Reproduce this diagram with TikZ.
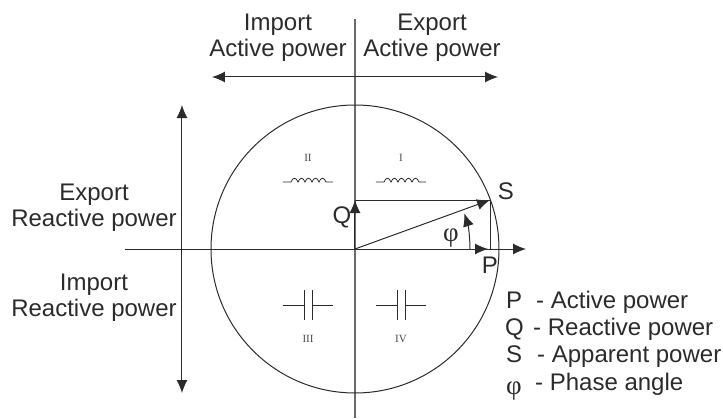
\documentclass[tikz,border=0pt]{standalone}
\usepackage{fontspec}
\setmainfont{Liberation Sans}
\newfontfamily\romanfont{Liberation Serif}
\usetikzlibrary{arrows.meta}

\definecolor{ink}{HTML}{2B2B2B}
\tikzset{
  lbl/.style={font=\fontsize{24}{26}\selectfont, text=ink, inner sep=0pt, align=center},
  letter/.style={font=\fontsize{24}{26}\selectfont, text=ink, inner sep=0pt, anchor=base},
  legend/.style={font=\fontsize{24}{26}\selectfont, text=ink, inner sep=0pt, anchor=base west},
  phi/.style={font=\romanfont\fontsize{27}{26}\selectfont, text=ink, inner sep=0pt, anchor=base},
  quad/.style={font=\romanfont\fontsize{11}{13}\selectfont, text=ink!85, inner sep=0pt},
  vec/.style={-{Latex[length=13pt,width=11pt]}, line width=1pt, draw=ink},
  dbl/.style={{Latex[length=13pt,width=11pt]}-{Latex[length=13pt,width=11pt]}, line width=1pt, draw=ink},
  thin line/.style={line width=1pt, draw=ink}
}

\begin{document}
\begin{tikzpicture}[x=1pt, y=1pt]
  \useasboundingbox (-355,-169) rectangle (368,249);
  % axes and circle
  \coordinate (O) at (0,0);
  \coordinate (axT) at (0,230);
  \coordinate (axB) at (0,-169);
  \coordinate (axL) at (-230,0);
  \coordinate (axR) at (171,0);
  \coordinate (S) at (135,49);
  \coordinate (Pt) at (135,0);
  \coordinate (Qt) at (0,49);
  \draw[line width=1.3pt, draw=ink!70] (axT) -- (axB);
  \draw[vec] (axL) -- (axR);
  \draw[thin line] (O) circle (144);
  % vectors
  \draw[vec] (O) -- (S);
  \draw[vec] (O) -- (133,0);
  \draw[vec] (O) -- (Qt);
  \draw[thin line] (Qt) -- (S) -- (Pt);
  \draw[vec] (115,0) arc (0:18:115);
  % direction arrows
  \coordinate (hL) at (-143,172);
  \coordinate (hR) at (143,172);
  \coordinate (vT) at (-173,144);
  \coordinate (vB) at (-173,-144);
  \draw[dbl] (hL) -- (hR);
  \draw[dbl] (vT) -- (vB);
  % quadrants
  \foreach \qx/\qname in {46/I,-47/II}{
    \node[quad] (quad\qname) at (\qx,91) {\qname};
    \draw[line width=0.8pt, draw=ink] (\qx-25,67) -- (\qx-17,67)
      .. controls (\qx-15,72) and (\qx-12,72) .. (\qx-10,67)
      .. controls (\qx-8,72) and (\qx-5,72) .. (\qx-3,67)
      .. controls (\qx-1,72) and (\qx+2,72) .. (\qx+4,67)
      .. controls (\qx+6,72) and (\qx+9,72) .. (\qx+11,67)
      .. controls (\qx+13,72) and (\qx+16,72) .. (\qx+18,67) -- (\qx+25,67);
  }
  \foreach \qx/\qname in {46/IV,-47/III}{
    \node[quad] (quad\qname) at (\qx,-90) {\qname};
    \draw[line width=0.8pt, draw=ink] (\qx-25,-56) -- (\qx-4,-56) (\qx+4,-56) -- (\qx+25,-56)
      (\qx-4,-41) -- (\qx-4,-71) (\qx+4,-41) -- (\qx+4,-71);
  }
  % labels
  \node[lbl] (impA) at (-77,211) {Import\\Active power};
  \node[lbl] (expA) at (77,211) {Export\\Active power};
  \node[lbl] (expR) at (-261,41) {Export\\Reactive power};
  \node[lbl] (impR) at (-261,-49) {Import\\Reactive power};
  \node[letter] (lblS) at (151,50) {S};
  \node[letter] (lblQ) at (-13,26) {Q};
  \node[letter] (lblP) at (135,-24) {P};
  \node[phi] (lblphi) at (96,8) {φ};
  % legend
  \node[legend] (keyP) at (151,-59) {P};
  \node[legend] (keyQ) at (150,-86) {Q};
  \node[legend] (keyS) at (151,-113) {S};
  \node[phi, anchor=base west] (keyF) at (151,-145) {φ};
  \node[legend] (txtP) at (181,-59) {- Active power};
  \node[legend] (txtQ) at (178,-86) {- Reactive power};
  \node[legend] (txtS) at (182,-113) {- Apparent power};
  \node[legend] (txtF) at (180,-141) {- Phase angle};
\end{tikzpicture}
\end{document}
